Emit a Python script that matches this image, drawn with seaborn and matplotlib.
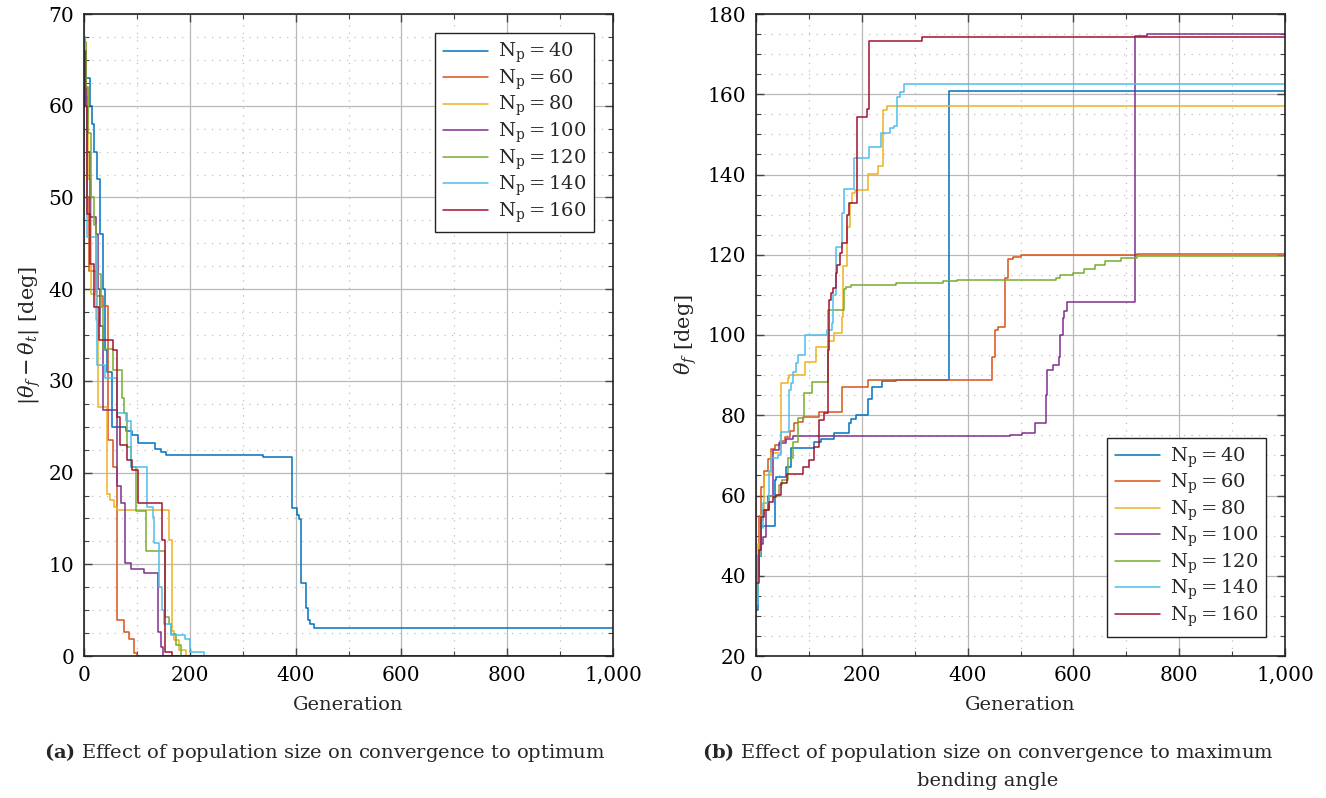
import numpy as np
import pandas as pd
import matplotlib
matplotlib.use("Agg")
import matplotlib.pyplot as plt
import seaborn as sns
from matplotlib.ticker import MultipleLocator, FuncFormatter
from matplotlib.lines import Line2D

# ---------------- data ----------------
pop_sizes = [40, 60, 80, 100, 120, 140, 160]
colors = ["#0072BD", "#D95319", "#EDB120", "#7E2F8E", "#77AC30", "#4DBEEE", "#A2142F"]

# (a) |theta_f - theta_t| vs generation (step curves: generation where value starts, value)
a40_gen = [0, 2, 12, 15, 19, 24, 30, 35, 40, 44, 53, 79, 91, 103, 135, 145, 155, 338, 393, 402, 407, 410, 420, 423, 427, 434, 1000]
a40_val = [67.5, 63, 60, 58, 55, 52, 46, 40, 33.4, 31, 25.0, 24.5, 24.1, 23.2, 22.6, 22.2, 21.9, 21.7, 16.1, 15.4, 14.9, 8.0, 5.2, 3.9, 3.5, 3.1, 3.0]
a60_gen = [0, 3, 6, 10, 22, 35, 46, 54, 63, 76, 85, 95, 101, 1000]
a60_val = [66, 60, 50, 42, 39.3, 38.2, 23.5, 20.6, 3.9, 2.6, 1.8, 0.3, 0, 0]
a80_gen = [0, 3, 8, 13, 22, 27, 44, 50, 57, 63, 161, 167, 170, 180, 192, 1000]
a80_val = [67, 62, 52, 39.5, 36.6, 27.2, 17.7, 17.0, 16.3, 15.9, 12.6, 2.7, 1.7, 0.7, 0, 0]
a100_gen = [0, 3, 6, 12, 22, 27, 30, 35, 63, 70, 77, 88, 113, 139, 146, 149, 1000]
a100_val = [66, 61, 55, 47.9, 46, 40, 36, 26.8, 18.5, 16.7, 10.1, 9.5, 9.1, 2.6, 1.0, 0, 0]
a120_gen = [0, 3, 8, 14, 18, 22, 32, 35, 54, 71, 76, 82, 88, 98, 118, 154, 160, 165, 173, 183, 1000]
a120_val = [67, 62, 57, 50, 47, 41.6, 38, 33.5, 31.2, 28.1, 26.5, 22.8, 20.6, 15.8, 11.5, 4.3, 3.5, 2.4, 1.2, 0, 0]
a140_gen = [0, 2, 5, 24, 40, 63, 79, 88, 120, 130, 133, 142, 148, 151, 165, 190, 200, 227, 1000]
a140_val = [67.5, 60, 45.7, 31.7, 30.3, 26.5, 25.6, 20.6, 16.2, 15.2, 12.3, 7.5, 5.0, 3.5, 2.3, 1.8, 0.4, 0, 0]
a160_gen = [0, 2, 5, 12, 19, 28, 54, 63, 68, 82, 91, 103, 148, 154, 167, 1000]
a160_val = [66, 60, 48.2, 42.7, 38, 34.5, 33.4, 26.1, 23.0, 21.4, 20.3, 16.7, 12.6, 0.4, 0, 0]

# (b) theta_f vs generation
b40_gen = [0, 3, 6, 9.5, 35, 38, 57, 66, 110, 123, 148, 176, 180, 189, 211, 220, 239, 264, 364, 700, 1000]
b40_val = [31.5, 40, 45, 52.4, 63.9, 64.5, 67.2, 71.8, 73.4, 74.0, 75.6, 78, 79, 80.1, 84, 87.1, 88.6, 88.8, 160.9, 160.7, 160.6]
b60_gen = [0, 3, 6, 10, 15, 22, 28, 35, 45, 55, 65, 72, 79, 88, 120, 162.5, 211, 447, 452, 458, 471, 476, 485, 500, 720, 1000]
b60_val = [36, 45, 55, 62, 66, 69, 71.5, 72.5, 73.5, 74.5, 76, 78, 78.4, 79.6, 80.9, 87.0, 88.9, 94.6, 101.2, 101.9, 114.1, 118.9, 119.5, 119.9, 120.3, 120.5]
b80_gen = [0, 4, 9.5, 16, 28, 47, 60, 63, 93, 113, 137, 148, 163, 165, 172, 178, 182, 187, 212, 230, 241, 247, 1000]
b80_val = [41.4, 48, 55.1, 65.1, 70.5, 88.0, 89.2, 90.0, 93.3, 97.1, 98.5, 100.4, 104.6, 117.3, 127.0, 132.8, 135.3, 136.1, 140.1, 142.0, 156.1, 157.1, 157.0]
b100_gen = [0, 4, 8, 13, 19, 22, 31.5, 44, 57, 69, 480, 502, 527, 548, 551, 562, 572, 574.5, 580, 582, 588, 716, 740, 1000]
b100_val = [40, 45, 48, 49.7, 56.4, 60, 71.3, 73.0, 74.0, 74.8, 75.2, 75.6, 78.0, 85.0, 91.3, 92.5, 94.6, 100, 104.2, 106, 108.3, 174.5, 175.0, 175.0]
b120_gen = [0, 4, 9.5, 13, 25, 44, 50, 60, 69, 79, 91, 106, 135.5, 167, 170, 180, 264, 353, 380, 568, 575, 600, 620, 640, 660, 690, 720, 1000]
b120_val = [35, 45, 53.9, 56.4, 60, 62.6, 63.9, 69.3, 73.4, 79.2, 85.5, 88.4, 106.2, 111.4, 112.0, 112.5, 112.9, 113.4, 113.7, 114.1, 115.0, 115.4, 116.5, 117.5, 118.5, 119.3, 119.8, 120.0]
b140_gen = [0, 4, 8, 12.6, 25, 28, 41, 47, 62, 66, 69, 76, 79, 93, 135, 144, 146, 151, 162, 167, 185, 213, 236, 253, 260, 266, 272, 279, 1000]
b140_val = [33, 45, 52, 58.1, 66, 69.3, 70, 75.9, 86.3, 88, 90.9, 93, 95.0, 100, 101.2, 103, 110, 121.9, 130.3, 136.3, 144.0, 146.9, 150.3, 151.5, 152, 159.4, 160.5, 162.6, 162.5]
b160_gen = [0, 6.3, 9.5, 15.8, 25, 31.5, 38, 47, 58.6, 88, 101, 110, 120, 129, 135.5, 138.6, 141.8, 146, 150.5, 154, 159, 163.5, 171.5, 176.5, 190, 209, 214, 314, 1000]
b160_val = [38.2, 46.4, 54.7, 56.4, 58.5, 59.7, 60.1, 63.0, 65.4, 67.2, 68.8, 72.2, 78.8, 80.5, 96.3, 108.7, 110.5, 111.6, 115.4, 117.4, 120.5, 122.9, 129.9, 132.8, 154.3, 156.2, 173.3, 174.3, 174.2]

x_ticks = [0, 200, 400, 600, 800, 1000]

labels = [r"$\mathrm{N}_{\mathrm{p}} = %d$" % n for n in pop_sizes]

series_a = [(a40_gen, a40_val), (a60_gen, a60_val), (a80_gen, a80_val), (a100_gen, a100_val),
            (a120_gen, a120_val), (a140_gen, a140_val), (a160_gen, a160_val)]
series_b = [(b40_gen, b40_val), (b60_gen, b60_val), (b80_gen, b80_val), (b100_gen, b100_val),
            (b120_gen, b120_val), (b140_gen, b140_val), (b160_gen, b160_val)]


def to_frame(series):
    frames = []
    for lab, (g, v) in zip(labels, series):
        frames.append(pd.DataFrame({"Generation": g, "value": v, "series": lab}))
    return pd.concat(frames, ignore_index=True)


df_a = to_frame(series_a)
df_b = to_frame(series_b)

# ---------------- style ----------------
sns.set_theme(style="white")
plt.rcParams["font.family"] = ["DejaVu Serif"]
plt.rcParams["mathtext.fontset"] = "dejavuserif"

fig = plt.figure(figsize=(13.26, 7.98), dpi=100)
W, H = 1326, 798
axL = fig.add_axes([84 / W, 142 / H, 529 / W, 642 / H])
axR = fig.add_axes([756 / W, 142 / H, 529 / W, 642 / H])

pal = dict(zip(labels, colors))
for ax, df in ((axL, df_a), (axR, df_b)):
    sns.lineplot(data=df, x="Generation", y="value", hue="series", hue_order=labels,
                 palette=pal, estimator=None, sort=False, drawstyle="steps-post",
                 linewidth=1.1, legend=False, ax=ax)


def style(ax, ylim, ymaj, ymin):
    ax.set_xlim(0, 1000)
    ax.set_ylim(*ylim)
    ax.set_xticks(x_ticks)
    ax.xaxis.set_minor_locator(MultipleLocator(100))
    ax.yaxis.set_major_locator(MultipleLocator(ymaj))
    ax.yaxis.set_minor_locator(MultipleLocator(ymin))
    ax.xaxis.set_major_formatter(FuncFormatter(lambda v, p: f"{int(round(v)):,}"))
    ax.grid(True, which="major", color="#b8b8b8", lw=0.9, ls="-")
    ax.grid(True, which="minor", color="#c0c0c0", lw=0.9, ls=(0, (1, 5)))
    ax.set_axisbelow(True)
    ax.tick_params(which="both", direction="in", top=True, right=True, bottom=True, left=True,
                   color="#444444", labelcolor="black", labelsize=14.5)
    ax.tick_params(which="major", length=6, width=1, pad=7)
    ax.tick_params(which="minor", length=3.5, width=0.8)
    for s in ax.spines.values():
        s.set_color("#222222")
        s.set_linewidth(1.2)
    ax.set_xlabel("Generation", fontsize=14, labelpad=8)


style(axL, (0, 70), 10, 2.5)
style(axR, (20, 180), 20, 5)
axL.set_ylabel(r"$|\theta_f - \theta_t|$ [deg]", fontsize=15, labelpad=4)
axR.set_ylabel(r"$\theta_f$ [deg]", fontsize=15, labelpad=6)

handles = [Line2D([], [], color=c, lw=1.1) for c in colors]
for ax, loc in ((axL, "upper right"), (axR, "lower right")):
    leg = ax.legend(handles, labels, loc=loc, frameon=True, fancybox=False, framealpha=1,
                    edgecolor="#222222", fontsize=14, handlelength=2.3, handletextpad=0.5,
                    labelspacing=0.12, borderpad=0.4, borderaxespad=1.0)
    leg.get_frame().set_linewidth(1.0)

fig.text(325 / W, 1 - 753 / H, r"$\mathbf{(a)}$ Effect of population size on convergence to optimum",
         ha="center", va="center", fontsize=14)
fig.text(988 / W, 1 - 753 / H, r"$\mathbf{(b)}$ Effect of population size on convergence to maximum",
         ha="center", va="center", fontsize=14)
fig.text(988 / W, 1 - 781 / H, "bending angle", ha="center", va="center", fontsize=14)

fig.savefig("out.png", dpi=100)
